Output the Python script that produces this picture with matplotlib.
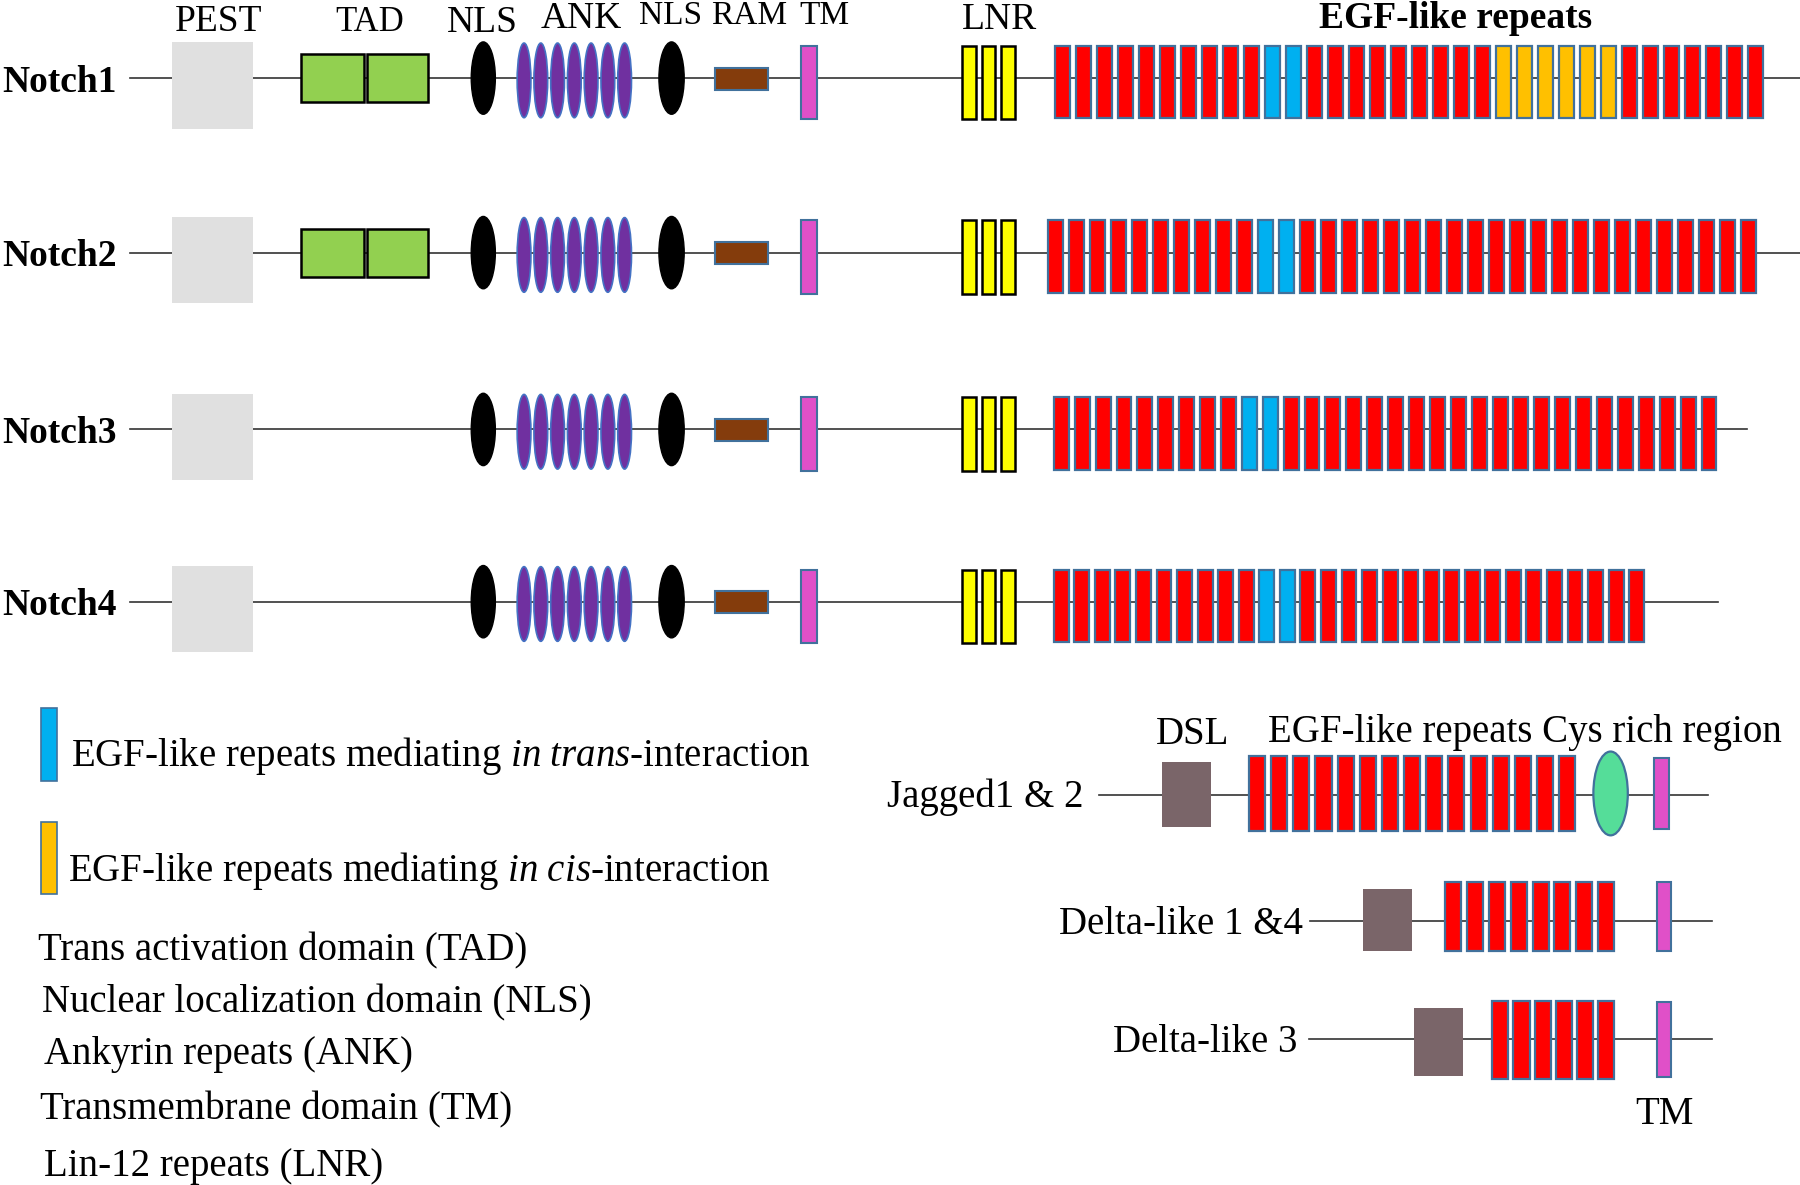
import matplotlib.pyplot as plt
from matplotlib.patches import Rectangle, Ellipse

plt.rcParams['font.family'] = ['Liberation Serif', 'DejaVu Serif']
plt.rcParams['mathtext.fontset'] = 'custom'
plt.rcParams['mathtext.rm'] = 'Liberation Serif'
plt.rcParams['mathtext.it'] = 'Liberation Serif:italic'

# receptors
notch_names = ['Notch1', 'Notch2', 'Notch3', 'Notch4']
row_y = [68, 220, 374, 524]
line_end = [1568, 1568, 1522, 1497]
has_tad = [True, True, False, False]
# R = plain EGF, B = in trans, O = in cis
egf_patterns = [
    'RRRRRRRRRRBBRRRRRRRRROOOOOORRRRRRR',
    'RRRRRRRRRRBBRRRRRRRRRRRRRRRRRRRRRR',
    'RRRRRRRRRBBRRRRRRRRRRRRRRRRRRRRR',
    'RRRRRRRRRRBBRRRRRRRRRRRRRRRRR',
]
egf_start = [919, 913, 918, 918]
egf_step = [18.3, 18.3, 18.2, 17.9]

top_labels = ['PEST', 'TAD', 'NLS', 'ANK', 'NLS', 'RAM', 'TM', 'LNR']
top_label_x = [190, 322, 420, 506, 584, 653, 718, 871]
top_label_base = [27, 27, 28, 24, 21, 21, 21, 25]
top_label_size = [27, 25, 27, 27, 24, 24, 24, 27]

# ligands
ligand_names = ['Jagged1 & 2', 'Delta-like 1 &4', 'Delta-like 3']
ligand_y = [692, 802, 905]
ligand_egf = [15, 8, 6]

legend_lines = [
    'Trans activation domain (TAD)',
    'Nuclear localization domain (NLS)',
    'Ankyrin repeats (ANK)',
    'Transmembrane domain (TM)',
    'Lin-12 repeats (LNR)',
]

colors = {'R': '#ff0000', 'B': '#00b0f0', 'O': '#ffc000'}
edge_blue = '#41719c'
line_col = '#333333'

fig = plt.figure(figsize=(18, 11.85), dpi=100)
ax = fig.add_axes([0, 0, 1, 1])
ax.set_xlim(0, 1568)
ax.set_ylim(1032, 0)
ax.axis('off')


def box(x0, x1, y0, y1, fc, ec='none', lw=0, z=2):
    ax.add_patch(Rectangle((x0, y0), x1 - x0, y1 - y0, facecolor=fc,
                           edgecolor=ec, linewidth=lw, zorder=z))


def oval(cx, cy, w, h, fc, ec, lw):
    ax.add_patch(Ellipse((cx, cy), w, h, facecolor=fc, edgecolor=ec,
                         linewidth=lw, zorder=2))


for i, name in enumerate(notch_names):
    y = row_y[i]
    ax.plot([113, line_end[i]], [y, y], color=line_col, lw=1.2, zorder=1)
    ax.text(2, y + 12, name, fontsize=27, fontweight='bold', va='baseline')
    # PEST
    box(150, 220, y - 31, y + 44, '#e0e0e0')
    if has_tad[i]:
        box(262, 317, y - 21, y + 21, '#92d050', 'black', 1.8)
        box(320, 373, y - 21, y + 21, '#92d050', 'black', 1.8)
    # NLS
    oval(421, y, 21, 63, 'black', 'black', 1)
    oval(585, y, 22, 63, 'black', 'black', 1)
    # ANK
    for k in range(7):
        oval(456.5 + k * 14.6, y + 2, 12, 65, '#7030a0', '#4472c4', 1.2)
    # RAM
    box(623, 669, y - 9, y + 10, '#843c0c', edge_blue, 1.5)
    # TM
    box(698, 712, y - 28, y + 36, '#e050c8', edge_blue, 1.5)
    # LNR
    for k in range(3):
        box(838 + k * 17, 850 + k * 17, y - 28, y + 36, '#ffff00', 'black', 1.8)
    # EGF repeats
    pat = egf_patterns[i]
    for k, c in enumerate(pat):
        x0 = egf_start[i] + k * egf_step[i]
        box(x0, x0 + 13, y - 28, y + 35, colors[c], edge_blue, 1.6)

for lab, x, b, s in zip(top_labels, top_label_x, top_label_base, top_label_size):
    ax.text(x, b, lab, fontsize=s, ha='center', va='baseline')
ax.text(1268, 24, 'EGF-like repeats', fontsize=27, fontweight='bold',
        ha='center', va='baseline')

# legend on the left
box(36, 50, 617, 680, colors['B'], edge_blue, 1.2)
ax.text(62, 667, r'EGF-like repeats mediating $\mathit{in\ trans}$-interaction',
        fontsize=28, va='baseline')
box(36, 50, 716, 779, colors['O'], edge_blue, 1.2)
ax.text(59, 767, r'EGF-like repeats mediating $\mathit{in\ cis}$-interaction',
        fontsize=28, va='baseline')
legend_x = [33, 37, 38, 35, 38]
legend_base = [836, 882, 927, 975, 1024]
for t, x, b in zip(legend_lines, legend_x, legend_base):
    ax.text(x, b, t, fontsize=28, va='baseline')

# ligands
lig_line = [(957, 1488), (1141, 1491), (1140, 1491)]
lig_name_x = [944, 1135, 1130]
dsl_x = [(1012, 1055), (1187, 1230), (1232, 1274)]
dsl_h = [(-28, 28), (-28, 26), (-27, 32)]
egf_x0 = [1088, 1259, 1300]
egf_pitch = [19.3, 19.0, 18.4]
egf_h = [(-34, 32), (-34, 26), (-33, 35)]
tm_x = [1441, 1443, 1443]
tm_h = [(-32, 30), (-34, 26), (-32, 33)]
for i, name in enumerate(ligand_names):
    y = ligand_y[i]
    ax.plot(lig_line[i], [y, y], color=line_col, lw=1.2, zorder=1)
    ax.text(lig_name_x[i], y + 11, name, fontsize=28, ha='right', va='baseline')
    box(dsl_x[i][0], dsl_x[i][1], y + dsl_h[i][0], y + dsl_h[i][1], '#7a6569')
    for k in range(ligand_egf[i]):
        x0 = egf_x0[i] + k * egf_pitch[i]
        box(x0, x0 + 14, y + egf_h[i][0], y + egf_h[i][1], colors['R'], edge_blue, 1.6)
    box(tm_x[i], tm_x[i] + 13, y + tm_h[i][0], y + tm_h[i][1], '#e050c8', edge_blue, 1.5)
oval(1403, 691, 30, 73, '#55dd99', edge_blue, 1.6)

ax.text(1039, 648, 'DSL', fontsize=28, ha='center', va='baseline')
ax.text(1105, 646, 'EGF-like repeats Cys rich region', fontsize=28, va='baseline')
ax.text(1450, 979, 'TM', fontsize=28, ha='center', va='baseline')

fig.savefig('out.png', dpi=100)
